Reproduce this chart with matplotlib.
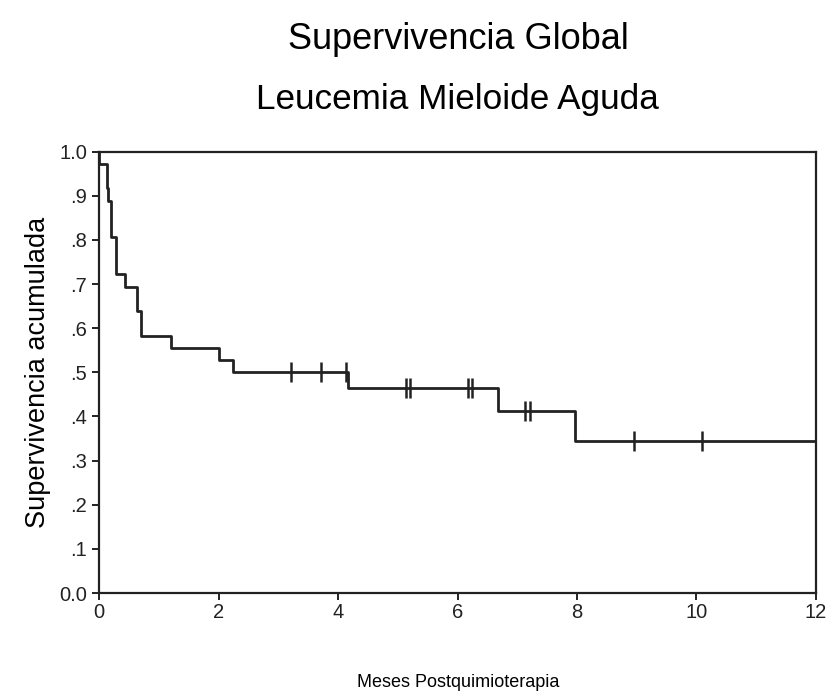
import numpy as np
import matplotlib
matplotlib.use("Agg")
import matplotlib.pyplot as plt

plt.rcParams["font.family"] = ["Liberation Sans", "DejaVu Sans"]

# Kaplan-Meier steps: time of each drop and survival level after it
event_times = [0.0, 0.13, 0.155, 0.2, 0.28, 0.435, 0.63, 0.71, 1.2, 2.01, 2.25, 4.17, 6.67, 7.97]
surv_levels = [0.972, 0.917, 0.889, 0.806, 0.722, 0.694, 0.639, 0.583, 0.556, 0.528, 0.5, 0.464, 0.413, 0.344]
censor_times = [3.22, 3.71, 4.13, 5.13, 5.2, 6.17, 6.24, 7.13, 7.21, 8.95, 10.1]
end_time = 12.0

y_ticks = [0.0, 0.1, 0.2, 0.3, 0.4, 0.5, 0.6, 0.7, 0.8, 0.9, 1.0]
y_tick_labels = ["0.0", ".1", ".2", ".3", ".4", ".5", ".6", ".7", ".8", ".9", "1.0"]
x_ticks = [0, 2, 4, 6, 8, 10, 12]

fig = plt.figure(figsize=(8.28, 6.99), dpi=100)
ax = fig.add_axes([0.1196, 0.1516, 0.8659, 0.6314])

xs = [0.0] + event_times + [end_time]
ys = [1.0] + surv_levels + [surv_levels[-1]]
ax.step(xs, ys, where="post", color="#222222", lw=2.0)

# censored observations
cens_y = [surv_levels[np.searchsorted(event_times, t, side="right") - 1] for t in censor_times]
ax.plot(censor_times, cens_y, ls="none", marker="|", ms=14, mew=1.8, color="#222222")

ax.set_xlim(0, 12)
ax.set_ylim(0, 1.0)
ax.set_xticks(x_ticks)
ax.set_yticks(y_ticks)
ax.set_yticklabels(y_tick_labels)
ax.tick_params(direction="out", length=5, width=1.4, labelsize=14.5, colors="#222222")
ax.tick_params(axis="x", pad=2)
for s in ax.spines.values():
    s.set_linewidth(1.6)
    s.set_color("#222222")

ax.set_ylabel("Supervivencia acumulada", fontsize=19.5, labelpad=6)

fig.text(0.553, 0.023, "Meses Postquimioterapia", ha="center", va="center", fontsize=13)
fig.text(0.553, 0.943, "Supervivencia Global", ha="center", va="center", fontsize=26)
fig.text(0.553, 0.857, "Leucemia Mieloide Aguda", ha="center", va="center", fontsize=25.3)

fig.savefig("out.png", dpi=100)
